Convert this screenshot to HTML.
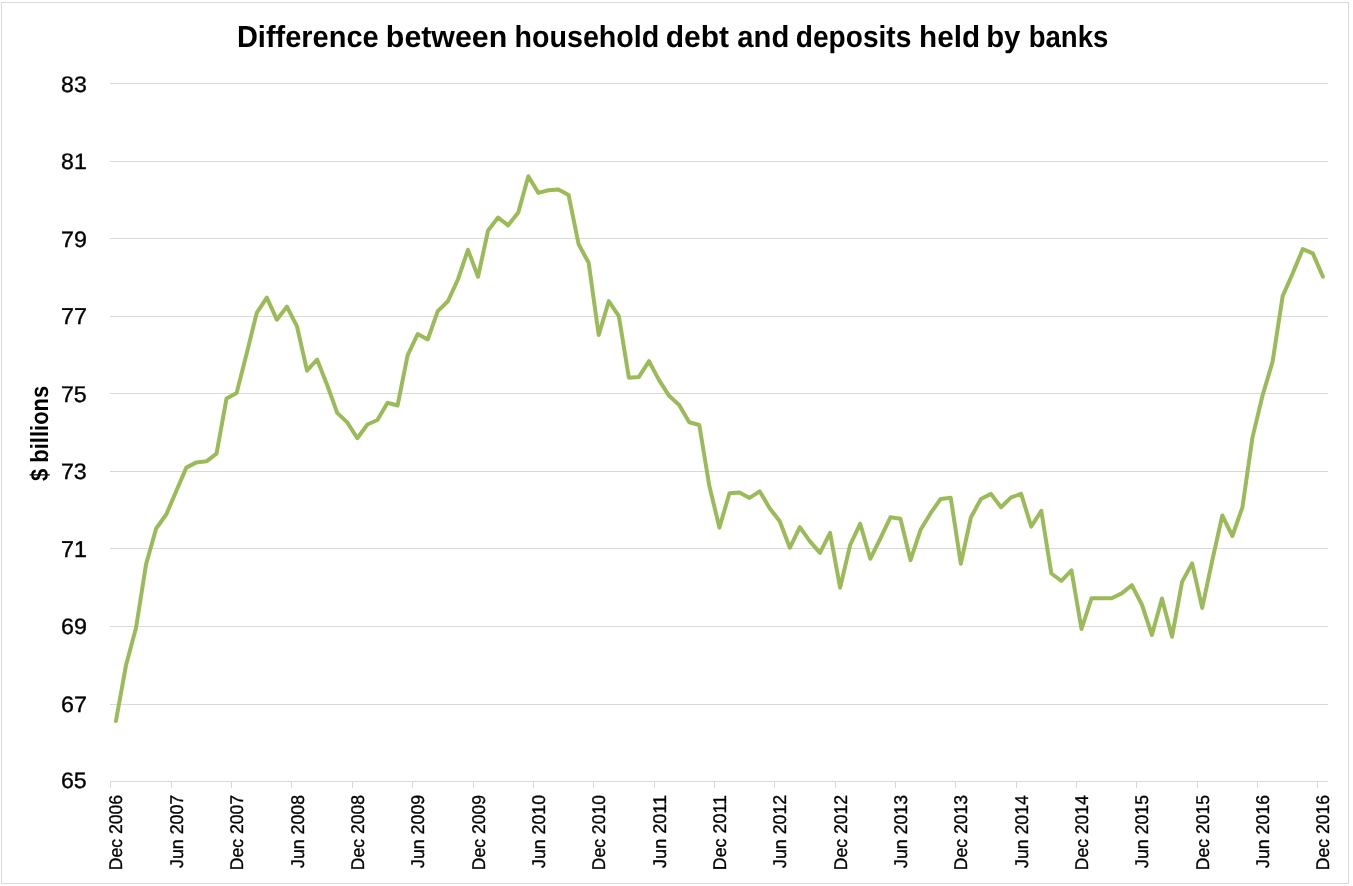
<!DOCTYPE html>
<html><head><meta charset="utf-8"><style>
html,body{margin:0;padding:0;background:#fff;width:1353px;height:886px;overflow:hidden}
svg{display:block;will-change:transform}
text{font-family:"Liberation Sans",sans-serif;fill:#000;text-rendering:geometricPrecision}
</style></head><body>
<svg width="1353" height="886" viewBox="0 0 1353 886">
<rect x="1.5" y="2.5" width="1347" height="881" fill="#fff" stroke="#d9d9d9" stroke-width="1"/>
<g stroke="#d9d9d9" stroke-width="1" shape-rendering="crispEdges"><line x1="110" y1="704.5" x2="1328" y2="704.5"/><line x1="110" y1="626.5" x2="1328" y2="626.5"/><line x1="110" y1="548.5" x2="1328" y2="548.5"/><line x1="110" y1="471.5" x2="1328" y2="471.5"/><line x1="110" y1="393.5" x2="1328" y2="393.5"/><line x1="110" y1="316.5" x2="1328" y2="316.5"/><line x1="110" y1="238.5" x2="1328" y2="238.5"/><line x1="110" y1="161.5" x2="1328" y2="161.5"/><line x1="110" y1="83.5" x2="1328" y2="83.5"/><line x1="110" y1="781.5" x2="1328" y2="781.5"/><line x1="110.5" y1="781" x2="110.5" y2="788"/><line x1="171.5" y1="781" x2="171.5" y2="788"/><line x1="231.5" y1="781" x2="231.5" y2="788"/><line x1="291.5" y1="781" x2="291.5" y2="788"/><line x1="352.5" y1="781" x2="352.5" y2="788"/><line x1="412.5" y1="781" x2="412.5" y2="788"/><line x1="473.5" y1="781" x2="473.5" y2="788"/><line x1="533.5" y1="781" x2="533.5" y2="788"/><line x1="593.5" y1="781" x2="593.5" y2="788"/><line x1="654.5" y1="781" x2="654.5" y2="788"/><line x1="714.5" y1="781" x2="714.5" y2="788"/><line x1="774.5" y1="781" x2="774.5" y2="788"/><line x1="835.5" y1="781" x2="835.5" y2="788"/><line x1="895.5" y1="781" x2="895.5" y2="788"/><line x1="955.5" y1="781" x2="955.5" y2="788"/><line x1="1016.5" y1="781" x2="1016.5" y2="788"/><line x1="1076.5" y1="781" x2="1076.5" y2="788"/><line x1="1136.5" y1="781" x2="1136.5" y2="788"/><line x1="1197.5" y1="781" x2="1197.5" y2="788"/><line x1="1257.5" y1="781" x2="1257.5" y2="788"/><line x1="1317.5" y1="781" x2="1317.5" y2="788"/></g>
<g font-size="30.4" font-weight="bold"><text transform="matrix(0.9531,0,0,1,236.957,47)">Difference</text><text transform="matrix(0.9981,0,0,1,385.872,47)">between</text><text transform="matrix(0.9419,0,0,1,514.579,47)">household</text><text transform="matrix(0.9870,0,0,1,665.696,47)">debt</text><text transform="matrix(0.9610,0,0,1,737.299,47)">and</text><text transform="matrix(0.9244,0,0,1,795.778,47)">deposits</text><text transform="matrix(0.9764,0,0,1,919.005,47)">held</text><text transform="matrix(0.9667,0,0,1,986.136,47)">by</text><text transform="matrix(0.9073,0,0,1,1028.657,47)">banks</text></g>
<g font-size="22.6" stroke="#000" stroke-width="0.35"><text transform="matrix(1.0271,0,0,0.9902,60.951,788.408)">65</text><text transform="matrix(1.0324,0,0,0.9909,60.944,711.559)">67</text><text transform="matrix(1.0305,0,0,0.9900,60.947,633.559)">69</text><text transform="matrix(1.0292,0,0,1.0168,60.964,556.765)">71</text><text transform="matrix(1.0267,0,0,0.9897,60.967,478.552)">73</text><text transform="matrix(1.0264,0,0,1.0026,60.967,401.605)">75</text><text transform="matrix(1.0317,0,0,1.0168,60.961,323.765)">77</text><text transform="matrix(1.0297,0,0,0.9914,60.964,246.612)">79</text><text transform="matrix(1.0234,0,0,0.9892,61.103,168.548)">81</text><text transform="matrix(1.0210,0,0,0.9892,61.106,91.608)">83</text></g>
<text font-weight="bold" font-size="24.8" transform="translate(47.86,481.059) rotate(-90) scale(0.8864,1)">$ billions</text>
<g font-size="18" stroke="#000" stroke-width="0.35"><text transform="translate(122.492,870.287) rotate(-90) scale(0.9786,1.0198)">Dec 2006</text><text transform="translate(182.868,867.966) rotate(-90) scale(0.9874,1.0221)">Jun 2007</text><text transform="translate(243.188,870.288) rotate(-90) scale(0.9790,1.0198)">Dec 2007</text><text transform="translate(303.552,867.966) rotate(-90) scale(0.9864,1.0211)">Jun 2008</text><text transform="translate(363.884,870.286) rotate(-90) scale(0.9780,1.0198)">Dec 2008</text><text transform="translate(424.240,867.966) rotate(-90) scale(0.9872,1.0205)">Jun 2009</text><text transform="translate(484.580,870.287) rotate(-90) scale(0.9788,1.0198)">Dec 2009</text><text transform="translate(544.956,867.965) rotate(-90) scale(0.9852,1.0221)">Jun 2010</text><text transform="translate(605.276,870.285) rotate(-90) scale(0.9769,1.0198)">Dec 2010</text><text transform="translate(665.652,867.974) rotate(-90) scale(1.0048,1.0221)">Jun 2011</text><text transform="translate(725.972,870.313) rotate(-90) scale(0.9958,1.0198)">Dec 2011</text><text transform="translate(786.348,867.966) rotate(-90) scale(0.9874,1.0221)">Jun 2012</text><text transform="translate(846.668,870.288) rotate(-90) scale(0.9790,1.0198)">Dec 2012</text><text transform="translate(907.032,867.966) rotate(-90) scale(0.9867,1.0211)">Jun 2013</text><text transform="translate(967.364,870.287) rotate(-90) scale(0.9783,1.0198)">Dec 2013</text><text transform="translate(1027.740,867.964) rotate(-90) scale(0.9825,1.0221)">Jun 2014</text><text transform="translate(1088.060,870.281) rotate(-90) scale(0.9743,1.0198)">Dec 2014</text><text transform="translate(1148.420,867.966) rotate(-90) scale(0.9867,1.0208)">Jun 2015</text><text transform="translate(1208.756,870.287) rotate(-90) scale(0.9783,1.0198)">Dec 2015</text><text transform="translate(1269.132,867.966) rotate(-90) scale(0.9870,1.0221)">Jun 2016</text><text transform="translate(1329.452,870.287) rotate(-90) scale(0.9786,1.0198)">Dec 2016</text></g>
<polyline points="115.93,721.00 125.99,665.30 136.05,627.70 146.10,564.10 156.16,528.50 166.22,514.50 176.28,491.00 186.34,467.60 196.39,462.40 206.45,461.30 216.51,453.70 226.57,398.40 236.62,393.10 246.68,353.50 256.74,312.90 266.80,297.60 276.86,319.70 286.91,306.60 296.97,326.30 307.03,370.60 317.09,359.50 327.15,385.00 337.21,412.90 347.26,422.40 357.32,438.20 367.38,424.50 377.44,420.00 387.50,402.70 397.55,405.50 407.61,355.30 417.67,334.00 427.73,339.50 437.78,311.10 447.84,301.30 457.90,279.50 467.96,249.80 478.02,276.70 488.08,230.50 498.13,217.60 508.19,225.30 518.25,212.60 528.31,176.30 538.37,192.90 548.42,190.20 558.48,189.40 568.54,194.90 578.60,244.20 588.65,262.70 598.71,335.00 608.77,301.10 618.83,316.10 628.89,377.70 638.94,376.90 649.00,361.10 659.06,380.10 669.12,395.80 679.18,404.90 689.24,422.30 699.29,425.00 709.35,486.00 719.41,527.60 729.47,493.20 739.52,492.40 749.58,497.90 759.64,491.30 769.70,508.20 779.76,521.30 789.81,547.80 799.87,527.20 809.93,541.40 819.99,552.90 830.05,532.80 840.11,587.70 850.16,545.00 860.22,523.70 870.28,558.80 880.34,538.50 890.39,517.30 900.45,518.70 910.51,560.20 920.57,529.80 930.63,513.20 940.68,498.90 950.74,497.70 960.80,563.70 970.86,517.50 980.92,499.00 990.97,493.90 1001.03,507.20 1011.09,497.40 1021.15,493.90 1031.21,526.60 1041.27,510.80 1051.32,573.50 1061.38,580.80 1071.44,570.30 1081.50,629.00 1091.56,598.20 1101.61,598.20 1111.67,598.20 1121.73,593.40 1131.79,585.20 1141.85,604.50 1151.90,635.00 1161.96,598.50 1172.02,636.70 1182.08,581.90 1192.13,563.40 1202.19,607.90 1212.25,560.50 1222.31,515.50 1232.37,536.00 1242.43,507.30 1252.48,437.40 1262.54,395.50 1272.60,361.60 1282.66,296.10 1292.72,273.20 1302.77,249.10 1312.83,253.40 1322.89,276.60" fill="none" stroke="#9bbb59" stroke-width="4" stroke-linejoin="round" stroke-linecap="round"/>
</svg>
</body></html>
